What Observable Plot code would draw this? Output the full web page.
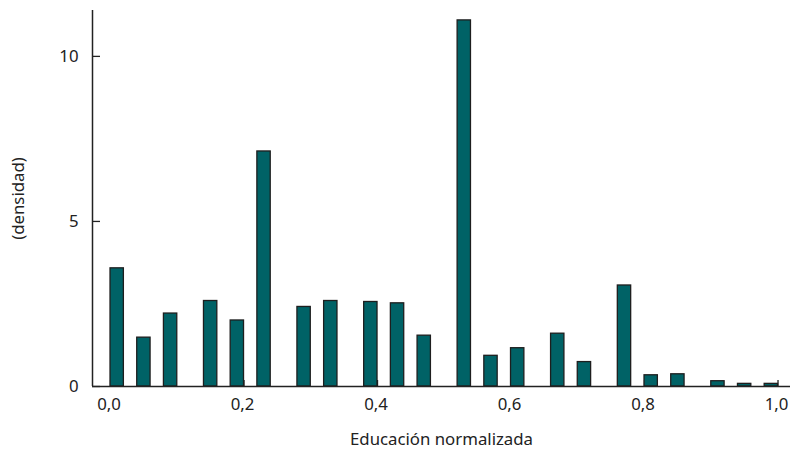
<!DOCTYPE html>
<html>
<head>
<meta charset="utf-8">
<script src="https://cdn.jsdelivr.net/npm/d3@7"></script>
<script src="https://cdn.jsdelivr.net/npm/@observablehq/plot@0.6"></script>
<style>
  html, body { margin: 0; padding: 0; background: #fff; }
  #chart { width: 792px; height: 451px; }
  svg { font-family: "Noto Sans", "Open Sans", sans-serif; }
</style>
</head>
<body>
<div id="chart"></div>
<script>
// Bin start of each bar (normalized education), bars are 0.02 wide
const binStart = [0.00, 0.04, 0.08, 0.14, 0.18, 0.22, 0.28, 0.32, 0.38, 0.42, 0.46,
                  0.52, 0.56, 0.60, 0.66, 0.70, 0.76, 0.80, 0.84, 0.90, 0.94, 0.98];
const binWidth = 0.02;
// Density values
const density = [3.58, 1.48, 2.21, 2.59, 2.00, 7.12, 2.41, 2.59, 2.56, 2.52, 1.54,
                 11.09, 0.93, 1.16, 1.60, 0.74, 3.06, 0.34, 0.37, 0.16, 0.08, 0.08];
const xTicks = [0, 0.2, 0.4, 0.6, 0.8, 1.0];
const yTicks = [0, 5, 10];
const xLabel = "Educación normalizada";
const yLabel = "(densidad)";

const data = binStart.map((s, i) => ({x1: s, x2: s + binWidth, y: density[i]}));
const fmt = d => d3.format(".1f")(d).replace(".", ",");

const chart = Plot.plot({
  width: 792,
  height: 451,
  marginLeft: 92,
  marginRight: 2,
  marginTop: 10,
  marginBottom: 65,
  style: {fontSize: "16.8px", color: "#222", background: "white", fontFamily: "'Noto Sans', 'Open Sans', sans-serif"},
  x: {domain: [-0.027, 1.0187]},
  y: {domain: [0, 11.39]},
  marks: [
    Plot.axisX({ticks: xTicks, tickSize: -6, text: null, label: null, stroke: "#222", strokeWidth: 1.3}),
    Plot.axisY({ticks: yTicks, tickSize: -8, text: null, label: null, stroke: "#222", strokeWidth: 1.3}),
    Plot.rectY(data, {x1: "x1", x2: "x2", y: "y", fill: "#006266", stroke: "#1e1e1e", strokeWidth: 1.3}),
    Plot.axisX({ticks: xTicks, tickSize: 0, tickPadding: 12, tickFormat: fmt, dx: -1.5,
                label: xLabel, labelAnchor: "center", labelArrow: "none", labelOffset: 58, fill: "#222"}),
    Plot.axisY({ticks: yTicks, tickSize: 0, tickPadding: 14,
                label: yLabel, labelAnchor: "center", labelArrow: "none", labelOffset: 80, fill: "#222"}),
    Plot.ruleY([0], {stroke: "#222", strokeWidth: 1.5}),
    Plot.ruleX([-0.027], {stroke: "#222", strokeWidth: 1.5})
  ]
});
document.getElementById("chart").appendChild(chart);
</script>
</body>
</html>
